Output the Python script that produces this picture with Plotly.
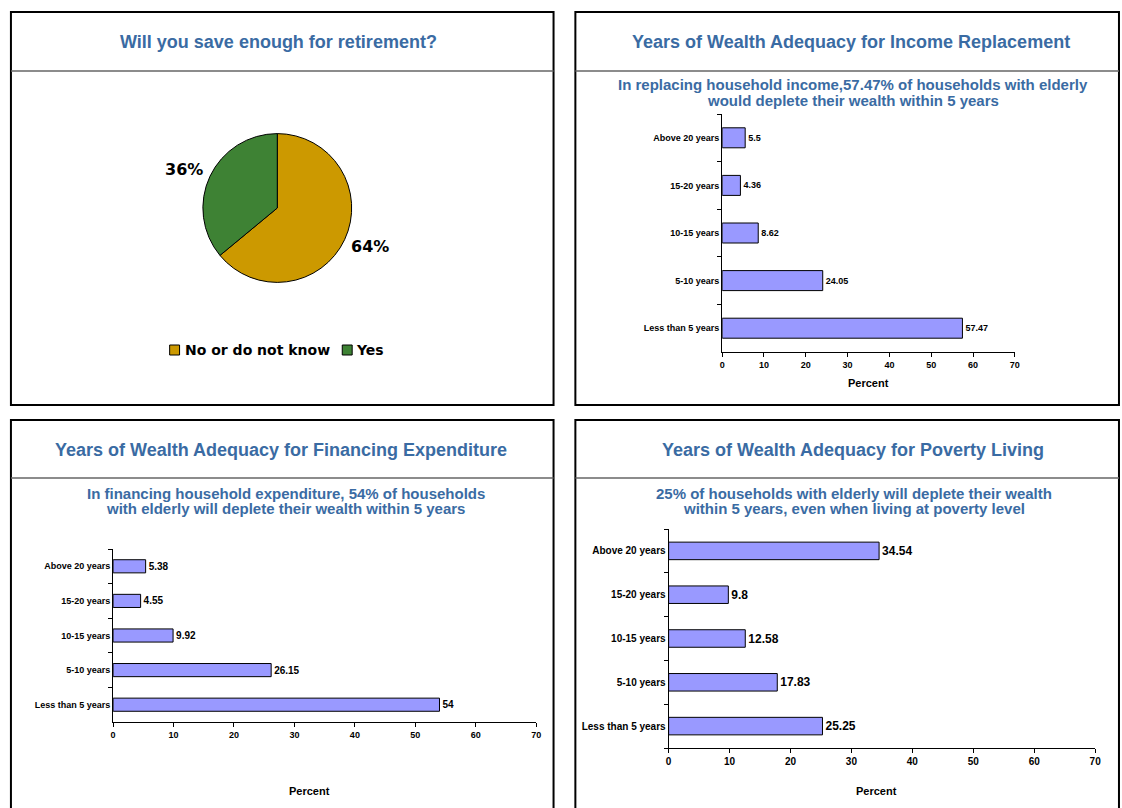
import math
import plotly.graph_objects as go

W, H = 1122, 808

# ---- data ----
pie_labels = ["No or do not know", "Yes"]
pie_values = [64, 36]
pie_colors = ["#CC9900", "#3E8234"]

categories = ["Less than 5 years", "5-10 years", "10-15 years", "15-20 years", "Above 20 years"]
income_replacement = [57.47, 24.05, 8.62, 4.36, 5.5]
financing_expenditure = [54, 26.15, 9.92, 4.55, 5.38]
poverty_living = [25.25, 17.83, 12.58, 9.8, 34.54]
x_ticks = [0, 10, 20, 30, 40, 50, 60, 70]

titles = [
    "Will you save enough for retirement?",
    "Years of Wealth Adequacy for Income Replacement",
    "Years of Wealth Adequacy for Financing Expenditure",
    "Years of Wealth Adequacy for Poverty Living",
]
subtitles = [
    ["In replacing household income,57.47% of households with elderly",
     "would deplete their wealth within 5 years"],
    ["In financing household expenditure, 54% of households",
     "with elderly will deplete their wealth within 5 years"],
    ["25% of households with elderly will deplete their wealth",
     "within 5 years, even when living at poverty level"],
]

TITLE_BLUE = "#3A6BA3"
ARIAL = "Liberation Sans, Arial, sans-serif"
VERDANA = "DejaVu Sans, Verdana, sans-serif"
BAR_FILL = "#9999FF"


def px(x):
    return x / W


def py(y):
    return 1 - y / H


def text_at(x, y, text, font, **kw):
    return dict(x=px(x), y=py(y), xref="paper", yref="paper", showarrow=False,
                xanchor=kw.pop("xanchor", "center"), yanchor=kw.pop("yanchor", "middle"),
                text=text, font=font, **kw)


fig = go.Figure()
annotations = []
shapes = []

# ---- pie ----
cx, cy, r = 276.5, 208, 75
fig.add_trace(go.Pie(
    labels=pie_labels, values=pie_values, sort=False, direction="clockwise", rotation=0,
    marker=dict(colors=pie_colors, line=dict(color="black", width=1)),
    textinfo="none", hoverinfo="label+percent",
    domain=dict(x=[px(cx - r), px(cx + r)], y=[py(cy + r), py(cy - r)]),
    showlegend=False,
))

# percentage labels sit just outside each slice, near its mid angle
total = sum(pie_values)
start = 0.0
for v in pie_values:
    mid = (start + v / 2) / total * 2 * math.pi - math.radians(3)
    start += v
    lx = cx + 1.35 * r * math.sin(mid)
    ly = cy - 1.35 * r * math.cos(mid)
    annotations.append(text_at(lx, ly, f"<b>{round(v / total * 100)}%</b>",
                               dict(family=VERDANA, size=16, color="black")))

# pie key: small square swatch followed by its label
legend_items = [(168, 181), (342, 354)]
for (sq_x, tx), lab, col in zip(legend_items, pie_labels, pie_colors):
    shapes.append(dict(type="rect", xref="paper", yref="paper",
                       x0=px(sq_x), x1=px(sq_x + 10), y0=py(355), y1=py(345),
                       fillcolor=col, line=dict(color="black", width=1)))
    annotations.append(text_at(tx, 350, f"<b>{lab}</b>", dict(family=VERDANA, size=14, color="black"),
                               xanchor="left"))

# ---- bar panels ----
bar_panels = [
    # values, x-domain px, y-domain px, axis suffix, tick font, value font, bar width, "Percent" position
    (income_replacement, (725, 1020), (114, 352), "", dict(family=ARIAL, size=9, color="black", weight="bold"),
     dict(family=ARIAL, size=9, color="black", weight="bold"), 0.42, (872, 383)),
    (financing_expenditure, (111, 537.5), (549, 722), "2", dict(family=ARIAL, size=9, color="black", weight="bold"),
     dict(family=ARIAL, size=10, color="black", weight="bold"), 0.38, (309, 791)),
    (poverty_living, (671, 1101), (529, 748), "3", dict(family=ARIAL, size=10, color="black", weight="bold"),
     dict(family=ARIAL, size=12, color="black", weight="bold"), 0.40, (881, 791)),
]

layout_axes = {}
for vals, (x0, x1), (y0, y1), sfx, lab_font, val_font, bw, (ptx, pty) in bar_panels:
    fig.add_trace(go.Bar(
        x=vals, y=categories, orientation="h",
        xaxis="x" + sfx, yaxis="y" + sfx,
        marker=dict(color=BAR_FILL, line=dict(color="black", width=1)),
        width=bw, text=[f"{v:g}" for v in vals], textposition="outside",
        textfont=val_font, cliponaxis=False, showlegend=False,
    ))
    layout_axes["xaxis" + sfx] = dict(
        domain=[px(x0), px(x1)], range=[0, 70], tickvals=x_ticks, anchor="y" + sfx,
        showgrid=False, zeroline=False, showline=True, linecolor="black", linewidth=1,
        ticks="outside", ticklen=4, tickcolor="black", tickfont=lab_font, fixedrange=True,
    )
    layout_axes["yaxis" + sfx] = dict(
        domain=[py(y1), py(y0)], range=[-0.5, 4.5], type="category", anchor="x" + sfx,
        categoryorder="array", categoryarray=categories,
        showgrid=False, zeroline=False, showline=True, linecolor="black", linewidth=1,
        ticks="outside", tickson="boundaries", ticklen=4, tickcolor="black",
        tickfont=lab_font, fixedrange=True,
    )
    annotations.append(text_at(ptx, pty, "<b>Percent</b>", dict(family=ARIAL, size=11, color="black")))

# ---- panel frames, header rules, titles ----
panels = [(8, 12, 555, 405), (577, 12, 1125, 405), (8, 420, 555, 812), (577, 420, 1125, 812)]
header_y = [71, 71, 478, 478]
title_x = [278, 855, 280, 857]
for (x0, y0, x1, y1), hy, tx, title in zip(panels, header_y, title_x, titles):
    shapes.append(dict(type="rect", xref="paper", yref="paper", x0=px(x0), x1=px(x1), y0=py(y1), y1=py(y0),
                       line=dict(color="black", width=2), fillcolor="rgba(0,0,0,0)", layer="below"))
    shapes.append(dict(type="line", xref="paper", yref="paper", x0=px(x0), x1=px(x1), y0=py(hy), y1=py(hy),
                       line=dict(color="#666666", width=1.5)))
    annotations.append(text_at(tx, (y0 + hy) / 2 + 1, f"<b>{title}</b>",
                               dict(family=ARIAL, size=18, color=TITLE_BLUE)))

sub_pos = [(857, 85), (285, 493), (858, 493)]
for (sx, sy), lines in zip(sub_pos, subtitles):
    for i, line in enumerate(lines):
        annotations.append(text_at(sx, sy + 15 * i, f"<b>{line}</b>",
                                   dict(family=ARIAL, size=15, color=TITLE_BLUE)))

fig.update_layout(
    width=W, height=H, margin=dict(l=0, r=0, t=0, b=0),
    paper_bgcolor="white", plot_bgcolor="white",
    shapes=shapes, annotations=annotations, showlegend=False,
    **layout_axes,
)

fig.write_html("out.html")
